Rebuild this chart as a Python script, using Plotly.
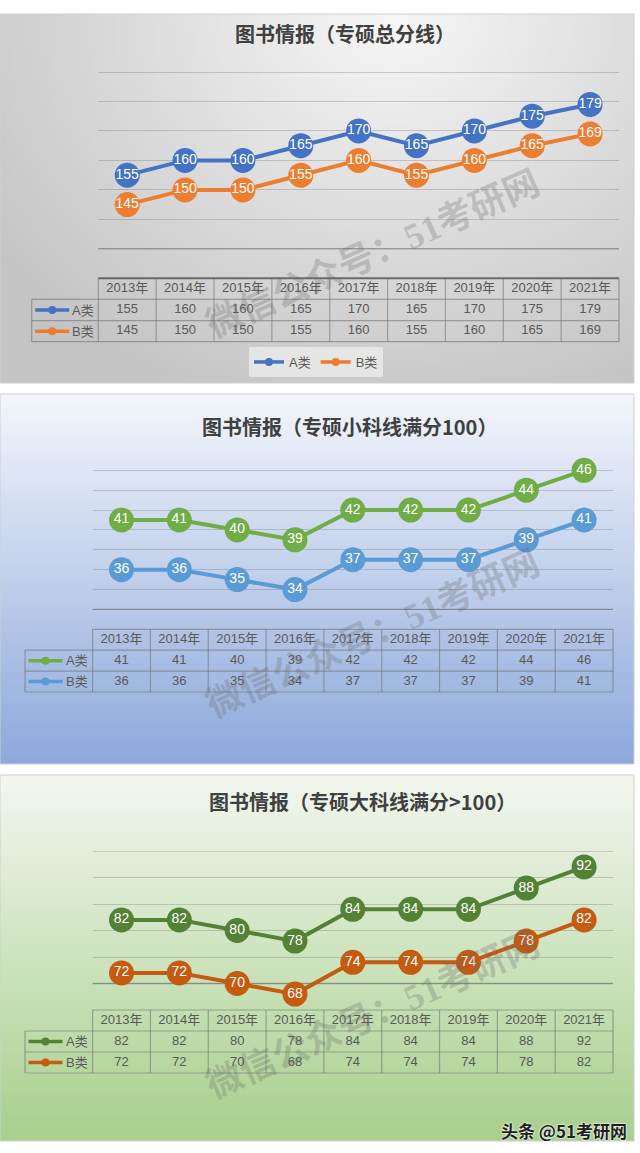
import math
import zlib
import struct
import base64
import plotly.graph_objects as go

W, H = 640, 1153

# ---------------- data ----------------
years = ['2013年', '2014年', '2015年', '2016年', '2017年', '2018年', '2019年', '2020年', '2021年']
series_names = ['A类', 'B类']

total_A = [155, 160, 160, 165, 170, 165, 170, 175, 179]
total_B = [145, 150, 150, 155, 160, 155, 160, 165, 169]

small_A = [41, 41, 40, 39, 42, 42, 42, 44, 46]
small_B = [36, 36, 35, 34, 37, 37, 37, 39, 41]

large_A = [82, 82, 80, 78, 84, 84, 84, 88, 92]
large_B = [72, 72, 70, 68, 74, 74, 74, 78, 82]

titles = ['图书情报（专硕总分线）', '图书情报（专硕小科线满分100）', '图书情报（专硕大科线满分>100）']
watermark = '微信公众号：51考研网'
credit = '头条 @51考研网'

# ---------------- styles / layout ----------------
CJK = 'Noto Sans CJK SC'
NUM = 'Liberation Sans, Noto Sans CJK SC'
TXT = '#595959'


def px_x(x):
    return x / W


def px_y(y):
    return 1 - y / H


def png_uri(w, h, fn):
    raw = bytearray()
    for j in range(h):
        raw.append(0)
        for i in range(w):
            r, g, b = fn((i + 0.5) / w, (j + 0.5) / h)
            raw += bytes([int(max(0, min(255, r))), int(max(0, min(255, g))), int(max(0, min(255, b)))])

    def chunk(t, d):
        c = struct.pack('>I', len(d)) + t + d
        return c + struct.pack('>I', zlib.crc32(t + d) & 0xffffffff)

    png = (b'\x89PNG\r\n\x1a\n'
           + chunk(b'IHDR', struct.pack('>IIBBBBB', w, h, 8, 2, 0, 0, 0))
           + chunk(b'IDAT', zlib.compress(bytes(raw), 9))
           + chunk(b'IEND', b''))
    return 'data:image/png;base64,' + base64.b64encode(png).decode()


def bg_gray(u, v):
    d = math.sqrt(((u - 0.62) / 0.78) ** 2 + ((v - 0.0) / 1.15) ** 2)
    t = min(d, 1.0)
    c = 247 - t * (247 - 196)
    return c, c, c


def lerp_rgb(c0, c1, t):
    return tuple(c0[k] + (c1[k] - c0[k]) * t for k in range(3))


def bg_blue(u, v):
    return lerp_rgb((244, 246, 252), (141, 169, 219), v)


def bg_green(u, v):
    return lerp_rgb((244, 247, 241), (168, 208, 141), v)


panels = [
    dict(top=14, bottom=383, A=total_A, B=total_B, colors=('#4472C4', '#ED7D31'),
         L=98.3, Lt=31.7, R=619, ytop=72, ybot=278.3, tb=341.7, yr=(120, 190), dtick=10, dark=130,
         title_xy=(345, 34), bg=bg_gray, top_line=('rgba(70,70,70,0.75)', 2)),
    dict(top=394, bottom=764, A=small_A, B=small_B, colors=('#70AD47', '#5B9BD5'),
         L=92.6, Lt=25, R=613, ytop=470.3, ybot=629.3, tb=692, yr=(30, 46), dtick=2, dark=32,
         title_xy=(349, 426), bg=bg_blue, top_line=('rgba(110,110,110,0.55)', 1.2)),
    dict(top=775, bottom=1141, A=large_A, B=large_B, colors=('#548235', '#C55A11'),
         L=92.6, Lt=25, R=613, ytop=851, ybot=1010, tb=1073, yr=(65, 95), dtick=5, dark=70,
         title_xy=(362, 801), bg=bg_green, top_line=('rgba(110,110,110,0.55)', 1.2)),
]
PANEL_RIGHT = 634
GRID = 'rgba(90,90,90,0.26)'
TABLE_LINE = 'rgba(110,110,110,0.55)'

fig = go.Figure()
layout = dict(
    width=W, height=H, margin=dict(l=0, r=0, t=0, b=0),
    paper_bgcolor='white', plot_bgcolor='rgba(0,0,0,0)',
    showlegend=True, hovermode=False,
)
shapes, annotations, images = [], [], []

for i, p in enumerate(panels):
    n_line = 2 * i + 1
    n_tab = 2 * i + 2
    xl = 'x' if n_line == 1 else f'x{n_line}'
    yl = 'y' if n_line == 1 else f'y{n_line}'
    xt, yt = f'x{n_tab}', f'y{n_tab}'
    L, Lt, R = p['L'], p['Lt'], p['R']
    cw = (R - L) / len(years)
    eps = p['dtick'] * 0.12
    span_px = p['ybot'] - p['ytop']
    span_val = p['yr'][1] - p['yr'][0]
    ytop_ext = p['ytop'] - eps * span_px / span_val

    # background image
    images.append(dict(source=png_uri(128, 74, p['bg']), xref='paper', yref='paper',
                       x=0, y=px_y(p['top']), sizex=PANEL_RIGHT / W, sizey=(p['bottom'] - p['top']) / H,
                       sizing='stretch', xanchor='left', yanchor='top', layer='below'))
    shapes.append(dict(type='rect', xref='paper', yref='paper', x0=0, x1=PANEL_RIGHT / W,
                       y0=px_y(p['bottom']), y1=px_y(p['top']), line=dict(color='#cfcfcf', width=1),
                       fillcolor='rgba(0,0,0,0)', layer='below'))

    # axes for line chart
    layout['xaxis' if n_line == 1 else f'xaxis{n_line}'] = dict(
        domain=[px_x(L), px_x(R)], type='category', categoryarray=years, range=[-0.5, len(years) - 0.5],
        showgrid=False, showticklabels=False, showline=False, zeroline=False, ticks='',
        anchor=yl, fixedrange=True)
    layout['yaxis' if n_line == 1 else f'yaxis{n_line}'] = dict(
        domain=[px_y(p['ybot']), px_y(ytop_ext)], range=[p['yr'][0], p['yr'][1] + eps],
        tick0=p['yr'][0], dtick=p['dtick'],
        showgrid=True, gridcolor=GRID, gridwidth=1, showticklabels=False, showline=False,
        zeroline=False, ticks='', anchor=xl, fixedrange=True)
    # darker lowest gridline
    shapes.append(dict(type='line', xref=xl + ' domain', yref=yl, x0=0, x1=1, y0=p['dark'], y1=p['dark'],
                       line=dict(color='rgba(90,90,90,0.45)', width=1.3), layer='below'))

    # axes for data table
    layout[f'xaxis{n_tab}'] = dict(
        domain=[px_x(Lt), px_x(R)], range=[-0.5 - (L - Lt) / cw, len(years) - 0.5],
        visible=False, anchor=yt, fixedrange=True)
    layout[f'yaxis{n_tab}'] = dict(
        domain=[px_y(p['tb']), px_y(p['ybot'])], range=[2.5, -0.5],
        visible=False, anchor=xt, fixedrange=True)

    # lines
    for s, (vals, col) in enumerate(zip([p['A'], p['B']], p['colors'])):
        fig.add_trace(go.Scatter(
            x=years, y=vals, mode='lines+markers+text', text=[str(v) for v in vals],
            textposition='middle center', textfont=dict(color='white', size=14, family=NUM),
            marker=dict(size=25, color=col), line=dict(color=col, width=4),
            xaxis=xl, yaxis=yl, showlegend=False, cliponaxis=False, name=series_names[s]))

    # data table text
    tx, ty, tt = [], [], []
    for r, row in enumerate([years, p['A'], p['B']]):
        for c, v in enumerate(row):
            tx.append(c)
            ty.append(r)
            tt.append(str(v))
    fig.add_trace(go.Scatter(x=tx, y=ty, text=tt, mode='text', textposition='middle center',
                             textfont=dict(color=TXT, size=13, family=NUM), xaxis=xt, yaxis=yt,
                             showlegend=False, cliponaxis=False))

    # table grid lines
    rh = (p['tb'] - p['ybot']) / 3
    rows_px = [p['ybot'] + k * rh for k in range(4)]
    cols_px = [L + k * cw for k in range(len(years) + 1)]
    tl_col, tl_w = p['top_line']
    shapes.append(dict(type='line', xref='paper', yref='paper', x0=px_x(L), x1=px_x(R),
                       y0=px_y(rows_px[0]), y1=px_y(rows_px[0]), line=dict(color=tl_col, width=tl_w), layer='below'))
    for yy in rows_px[1:]:
        shapes.append(dict(type='line', xref='paper', yref='paper', x0=px_x(Lt), x1=px_x(R),
                           y0=px_y(yy), y1=px_y(yy), line=dict(color=TABLE_LINE, width=1.2), layer='below'))
    for xx in cols_px:
        shapes.append(dict(type='line', xref='paper', yref='paper', x0=px_x(xx), x1=px_x(xx),
                           y0=px_y(rows_px[0]), y1=px_y(rows_px[3]), line=dict(color=TABLE_LINE, width=1.2),
                           layer='below'))
    shapes.append(dict(type='line', xref='paper', yref='paper', x0=px_x(Lt), x1=px_x(Lt),
                       y0=px_y(rows_px[1]), y1=px_y(rows_px[3]), line=dict(color=TABLE_LINE, width=1.2),
                       layer='below'))

    # legend keys inside the table
    for s, col in enumerate(p['colors']):
        yc = rows_px[1 + s] + rh / 2
        shapes.append(dict(type='line', xref='paper', yref='paper', x0=px_x(Lt + 3.5), x1=px_x(Lt + 37.5),
                           y0=px_y(yc), y1=px_y(yc), line=dict(color=col, width=3.5), layer='above'))
        shapes.append(dict(type='circle', xref='paper', yref='paper', x0=px_x(Lt + 16.5), x1=px_x(Lt + 24.5),
                           y0=px_y(yc + 4), y1=px_y(yc - 4), line=dict(width=0), fillcolor=col, layer='above'))
        annotations.append(dict(text=series_names[s], xref='paper', yref='paper', x=px_x(L - 2.5), y=px_y(yc),
                                xanchor='right', yanchor='middle', showarrow=False,
                                font=dict(color=TXT, size=13, family=NUM)))

    # title
    annotations.append(dict(text=titles[i], xref='paper', yref='paper', x=px_x(p['title_xy'][0]),
                            y=px_y(p['title_xy'][1]), xanchor='center', yanchor='middle', showarrow=False,
                            font=dict(color='#404040', size=20, family=CJK, weight=600)))
    # watermark
    annotations.append(dict(text=watermark, xref='paper', yref='paper', x=px_x(373), y=px_y(p['top'] + 240),
                            xanchor='center', yanchor='middle', showarrow=False, textangle=-24,
                            font=dict(color='rgba(105,105,105,0.28)', size=36,
                                      family='Liberation Serif, Noto Sans CJK SC', weight='bold')))

# bottom legend of the first panel
for s, col in enumerate(panels[0]['colors']):
    fig.add_trace(go.Scatter(x=[None], y=[None], mode='lines+markers', name=series_names[s],
                             marker=dict(size=8, color=col), line=dict(color=col, width=3.5),
                             showlegend=True, xaxis='x', yaxis='y'))
layout['legend'] = dict(orientation='h', x=px_x(316), xanchor='center', y=px_y(362), yanchor='middle',
                        bgcolor='rgba(238,238,238,0.75)', font=dict(color=TXT, size=13, family=NUM),
                        borderwidth=0, itemclick=False, itemdoubleclick=False)

annotations.append(dict(text=credit, xref='paper', yref='paper', x=px_x(564), y=px_y(1130),
                        xanchor='center', yanchor='middle', showarrow=False,
                        font=dict(color='#1e1e1e', size=17, family=CJK, weight='bold',
                                  shadow='0px 0px 2px #ffffff, 0px 0px 2px #ffffff')))

layout['shapes'] = shapes
layout['annotations'] = annotations
layout['images'] = images
fig.update_layout(**layout)
fig.write_html('out.html')
